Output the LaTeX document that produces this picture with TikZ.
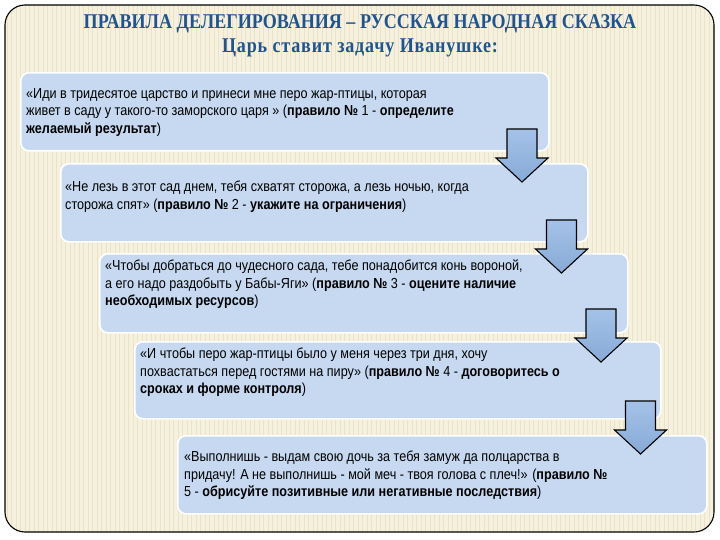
\documentclass[tikz,border=0pt]{standalone}
\usepackage{fontspec}
\setmainfont{Liberation Sans}[FakeStretch=0.87]
\newfontfamily\titlefont{Liberation Serif}[FakeStretch=0.86]
\usepackage{tikz}
\usetikzlibrary{positioning}
\definecolor{paper}{RGB}{245,241,222}
\definecolor{stripe}{RGB}{234,227,197}
\definecolor{boxblue}{RGB}{198,217,240}
\definecolor{arrblue}{RGB}{141,179,226}
\definecolor{titleblue}{RGB}{30,84,145}
\newcommand\blockarrow[2]{\draw[downarr] (#1-15,#2) -- (#1+15,#2) -- (#1+15,#2+29) -- (#1+26,#2+29) -- (#1,#2+53) -- (#1-26,#2+29) -- (#1-15,#2+29) -- cycle;}

\begin{document}
\begin{tikzpicture}[x=1pt, y=-1pt,
  stepbox/.style = {draw=white, line width=1.6pt, fill=boxblue, rounded corners=8pt, anchor=north west, inner sep=0pt},
  txt/.style = {anchor=north west, inner sep=0pt, align=left, font=\fontsize{14.5}{17.5}\selectfont},
  downarr/.style = {draw=black, line width=1.1pt, line join=miter, top color=arrblue!80!white, bottom color=arrblue!95!black},
  ttl/.style = {text=titleblue, font=\titlefont\bfseries\fontsize{21}{24}\selectfont}]
\useasboundingbox (0,0) rectangle (720,540);
\fill[white] (0,0) rectangle (720,540);
% framed paper
\fill[paper, rounded corners=20pt] (5,5) rectangle (714,532);
\begin{scope}
\clip[rounded corners=20pt] (5,5) rectangle (714,532);
\foreach \x in {7,11.5,...,714} \draw[stripe, line width=1pt] (\x,5) -- (\x,532);
\end{scope}
\draw[black, line width=1.1pt, rounded corners=20pt] (5,5) rectangle (714,532);
% title
\node[ttl] (ttl1) at (360,24) {ПРАВИЛА ДЕЛЕГИРОВАНИЯ – РУССКАЯ НАРОДНАЯ СКАЗКА};
\node[ttl] (ttl2) at (360,48) {\addfontfeature{LetterSpace=4}Царь ставит задачу Иванушке:};
% boxes
\node[stepbox, minimum width=528, minimum height=78] (b1) at (20,72) {};
\node[stepbox, minimum width=527, minimum height=78] (b2) at (60,163) {};
\node[stepbox, minimum width=528, minimum height=79] (b3) at (99,253) {};
\node[stepbox, minimum width=526, minimum height=77] (b4) at (134,341) {};
\node[stepbox, minimum width=529, minimum height=78] (b5) at (177,435) {};
% texts
\node[txt] (t1) at ([xshift=6pt,yshift=-16pt]b1.north west) {«Иди в тридесятое царство и принеси мне перо жар-птицы, которая\\
живет в саду у такого-то заморского царя » ({\bfseries правило №} 1 - {\bfseries определите}\\
{\bfseries желаемый результат})};
\node[txt] (t2) at ([xshift=5pt,yshift=-18pt]b2.north west) {«Не лезь в этот сад днем, тебя схватят сторожа, а лезь ночью, когда\\
сторожа спят» ({\bfseries правило №} 2 - {\bfseries укажите на ограничения})};
\node[txt] (t3) at ([xshift=6pt,yshift=-7pt]b3.north west) {«Чтобы добраться до чудесного сада, тебе понадобится конь вороной,\\
а его надо раздобыть у Бабы-Яги» ({\bfseries правило №} 3 - {\bfseries оцените наличие}\\
{\bfseries необходимых ресурсов})};
\node[txt] (t4) at ([xshift=6pt,yshift=-7pt]b4.north west) {«И чтобы перо жар-птицы было у меня через три дня, хочу\\
похвастаться перед гостями на пиру» ({\bfseries правило №} 4 - {\bfseries договоритесь о}\\
{\bfseries сроках и форме контроля})};
\node[txt] (t5) at ([xshift=7pt,yshift=-16pt]b5.north west) {«Выполнишь - выдам свою дочь за тебя замуж да полцарства в\\
придачу! А не выполнишь - мой меч - твоя голова с плеч!» ({\bfseries правило №}\\
5 - {\bfseries обрисуйте позитивные или негативные последствия})};
% arrows
\blockarrow{522}{129}
\blockarrow{561.5}{220}
\blockarrow{601}{309}
\blockarrow{640.5}{401}
\end{tikzpicture}
\end{document}
